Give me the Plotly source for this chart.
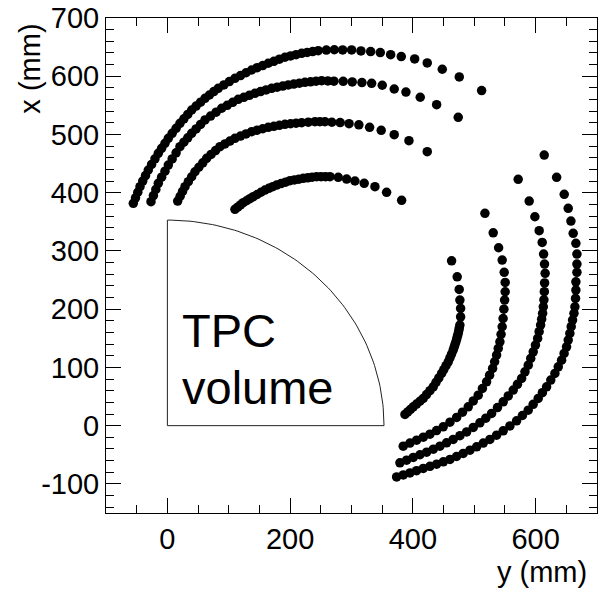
import numpy as np
import plotly.graph_objects as go

# ---- data (horizontal = "y (mm)", vertical = "x (mm)") ----
u1_h = [-55.5, -51.9, -48.2, -44.6, -40.1, -35.6, -31.1, -25.7, -20.2, -14.8,
        -9.4, -3.9, 1.5, 7.8, 14.2, 20.5, 26.9, 33.2, 39.6, 46.8,
        54.1, 61.3, 68.5, 75.7, 82.9, 92.0, 101.0, 110.1, 119.2, 128.2,
        137.3, 146.3, 155.4, 164.4, 173.5, 182.5, 191.6, 200.7, 209.7, 218.8,
        227.8, 236.8, 245.8, 259.0, 272.0, 285.6, 300.2, 315.4, 331.2, 346.9,
        363.8, 381.1, 402.9, 423.4, 447.9, 475.6, 512.0]
u1_v = [381.7, 391.2, 400.8, 410.3, 419.9, 429.4, 439.0, 448.5, 458.1, 467.6,
        476.2, 484.8, 493.4, 502.0, 510.6, 519.2, 526.8, 534.4, 542.0, 548.7,
        555.4, 562.1, 567.8, 573.6, 579.3, 585.0, 590.8, 596.5, 601.2, 606.0,
        610.7, 614.6, 618.4, 622.3, 625.7, 629.2, 632.6, 634.9, 637.1, 639.4,
        640.9, 642.4, 643.9, 645.0, 645.5, 645.2, 645.2, 643.5, 642.3, 640.6,
        637.1, 633.7, 629.7, 622.9, 612.0, 598.8, 575.3]

u2_h = [-26.7, -22.7, -18.8, -14.8, -9.4, -3.9, 1.5, 7.8, 14.2, 20.5,
        26.9, 33.2, 39.6, 46.8, 54.1, 61.3, 70.4, 79.4, 88.5, 97.5,
        106.5, 115.5, 124.6, 133.6, 142.7, 151.8, 160.8, 169.9, 178.9, 188.0,
        197.0, 206.0, 215.1, 224.1, 233.2, 242.2, 251.3, 261.5, 271.4, 286.5,
        301.2, 317.0, 332.8, 350.1, 369.6, 388.7, 412.0, 438.7, 473.9]
u2_v = [384.5, 395.0, 405.6, 416.1, 426.6, 437.0, 447.5, 458.0, 468.5, 479.0,
        486.7, 494.3, 502.0, 509.6, 517.3, 524.9, 531.6, 538.3, 545.0, 550.1,
        555.3, 560.4, 563.8, 567.3, 570.7, 573.6, 576.4, 579.3, 581.2, 583.1,
        585.0, 586.5, 588.1, 589.6, 590.5, 591.5, 592.4, 592.0, 591.5, 591.3,
        590.2, 589.2, 587.9, 584.5, 578.1, 572.9, 563.9, 551.2, 529.5]

u3_h = [16.8, 20.8, 24.7, 28.7, 34.1, 39.6, 45.0, 51.3, 57.7, 64.0,
        71.2, 78.5, 85.7, 93.8, 101.9, 110.1, 119.2, 128.2, 137.3, 146.3,
        155.4, 164.4, 173.5, 182.5, 191.6, 200.7, 209.7, 218.8, 229.6, 240.4,
        248.5, 256.7, 268.0, 281.5, 296.0, 312.0, 329.5, 348.4, 369.6, 393.6,
        423.4]
u3_v = [385.7, 393.9, 402.1, 410.3, 418.9, 427.4, 436.0, 443.7, 451.3, 459.0,
        465.7, 472.3, 479.0, 483.8, 488.6, 493.4, 497.2, 501.0, 504.8, 507.3,
        509.8, 512.3, 514.0, 515.8, 517.5, 518.4, 519.3, 520.2, 521.1, 521.9,
        522.0, 521.9, 521.0, 520.5, 518.5, 516.5, 512.3, 507.2, 499.6, 489.3,
        470.4]

u4_h = [110.1, 114.6, 119.1, 123.6, 129.0, 134.5, 139.9, 146.3, 152.6, 159.0,
        165.3, 171.7, 178.0, 185.2, 192.5, 199.7, 206.9, 214.2, 221.4, 228.7,
        235.9, 243.2, 250.4, 257.7, 264.9, 278.4, 292.1, 305.6, 320.7, 338.2,
        357.2, 381.7]
u4_v = [371.4, 375.2, 379.0, 382.8, 386.2, 389.7, 393.1, 396.9, 400.8, 404.6,
        407.5, 410.3, 413.2, 415.7, 418.1, 420.6, 422.0, 423.3, 424.7, 425.6,
        426.6, 427.5, 427.5, 427.5, 427.5, 426.4, 423.5, 420.1, 416.1, 410.3,
        400.6, 386.9]

r1_h = [387.1, 391.6, 396.1, 400.6, 406.0, 411.5, 416.9, 422.3, 427.8, 433.2,
        437.7, 442.3, 446.8, 450.4, 454.0, 457.6, 460.3, 463.0, 465.7, 467.2,
        468.6, 470.1, 471.4, 472.6, 473.9, 474.8, 475.7, 476.6, 477.8, 477.8,
        476.6, 475.5, 472.2, 463.1]
r1_v = [19.2, 23.6, 27.9, 32.3, 37.1, 41.9, 46.7, 53.4, 60.0, 66.7,
        74.4, 82.0, 89.7, 96.3, 103.0, 109.6, 116.3, 123.0, 129.7, 134.5,
        139.2, 144.0, 148.8, 153.6, 158.4, 163.2, 168.0, 172.7, 186.9, 201.3,
        215.6, 234.0, 255.6, 283.1]

r2_h = [384.3, 395.2, 406.1, 417.0, 427.8, 438.6, 449.4, 460.4, 471.3, 480.8,
        490.2, 498.4, 506.5, 513.3, 520.1, 525.0, 529.9, 533.2, 536.4, 539.1,
        541.8, 543.7, 545.5, 547.0, 548.3, 549.5, 550.4, 550.4, 548.8, 545.5,
        539.7, 530.9, 517.4]
r2_v = [-35.2, -30.0, -24.9, -19.8, -14.6, -8.4, -2.1, 6.0, 14.1, 23.2,
        32.3, 42.4, 52.4, 63.8, 75.2, 86.7, 98.3, 109.7, 121.1, 132.6,
        144.0, 156.9, 169.8, 184.0, 200.0, 215.6, 229.9, 246.0, 263.2, 284.3,
        305.5, 331.2, 364.6]

r3_h = [378.9, 389.8, 400.6, 411.5, 422.4, 433.3, 444.1, 454.9, 465.7, 476.7,
        487.6, 498.4, 509.2, 518.8, 528.3, 537.8, 547.2, 555.4, 563.5, 570.4,
        577.2, 582.6, 588.0, 592.0, 596.1, 599.7, 603.3, 605.7, 608.1, 609.8,
        611.4, 612.5, 613.5, 614.2, 614.6, 615.5, 614.5, 613.0, 610.7, 605.8,
        598.8, 589.5, 571.6]
r3_v = [-63.9, -59.3, -54.6, -50.0, -45.5, -40.4, -35.2, -29.5, -23.7, -17.2,
        -10.7, -3.0, 4.8, 12.9, 21.0, 31.0, 40.9, 51.0, 61.0, 71.0,
        81.1, 92.5, 103.9, 115.4, 126.8, 138.3, 149.8, 161.3, 172.7, 182.8,
        192.8, 204.0, 216.0, 230.0, 245.0, 261.5, 277.5, 294.6, 314.7, 334.7,
        358.7, 385.7, 423.0]

r4_h = [373.5, 384.4, 395.2, 406.0, 416.9, 427.8, 438.7, 449.6, 460.4, 471.2,
        482.0, 493.0, 503.9, 514.7, 525.5, 536.4, 547.2, 558.1, 569.0, 578.5,
        587.9, 596.0, 604.2, 611.0, 617.9, 624.7, 631.4, 636.9, 642.3, 646.4,
        650.4, 653.1, 655.8, 658.0, 660.2, 662.5, 664.0, 665.0, 665.6, 665.6,
        667.3, 667.3, 667.3, 665.6, 661.2, 657.5, 653.1, 646.6, 634.2, 614.0]
r4_v = [-88.0, -84.6, -81.1, -77.3, -73.5, -69.8, -66.1, -62.1, -58.1, -53.0,
        -47.8, -42.1, -36.4, -30.0, -23.7, -16.3, -8.9, -0.4, 8.2, 17.4,
        26.6, 36.7, 46.7, 56.7, 66.7, 78.2, 89.7, 101.1, 112.5, 124.0,
        135.4, 146.9, 158.4, 169.9, 181.3, 192.8, 204.1, 218.5, 232.8, 247.0,
        263.2, 277.5, 294.6, 313.0, 330.2, 351.3, 373.2, 397.2, 426.4, 464.7]

x_tick_vals = [0, 200, 400, 600]
x_tick_text = ["0", "200", "400", "600"]
y_tick_vals = [-100, 0, 100, 200, 300, 400, 500, 600, 700]
y_tick_text = ["-100", "0", "100", "200", "300", "400", "500", "600", "700"]

tpc_radius = 353.0
tpc_label = ["TPC", "volume"]
x_axis_title = "y (mm)"
y_axis_title = "x (mm)"

FONT = "Liberation Sans, Arial, Helvetica, sans-serif"

tracks = [(u1_h, u1_v), (u2_h, u2_v), (u3_h, u3_v), (u4_h, u4_v),
          (r1_h, r1_v), (r2_h, r2_v), (r3_h, r3_v), (r4_h, r4_v)]

fig = go.Figure()

# TPC volume outline (quarter circle)
ang = np.linspace(0, np.pi / 2, 91)
ox = np.concatenate([[0.0, 0.0], tpc_radius * np.sin(ang), [0.0]])
oy = np.concatenate([[0.0, tpc_radius], tpc_radius * np.cos(ang), [0.0]])
fig.add_trace(go.Scatter(x=ox, y=oy, mode="lines",
                         line=dict(color="#222222", width=1),
                         hoverinfo="skip", showlegend=False))

for h, v in tracks:
    fig.add_trace(go.Scatter(x=h, y=v, mode="markers",
                             marker=dict(color="black", size=9.5, line=dict(width=0)),
                             showlegend=False))

fig.add_annotation(x=20, y=163, xref="x", yref="y", text=tpc_label[0],
                   showarrow=False, xanchor="left", yanchor="middle",
                   font=dict(family=FONT, size=47, color="black"))
fig.add_annotation(x=20, y=65, xref="x", yref="y", text=tpc_label[1],
                   showarrow=False, xanchor="left", yanchor="middle",
                   font=dict(family=FONT, size=47, color="black"))

fig.add_annotation(x=-0.155, y=0.8975, xref="paper", yref="paper",
                   text=y_axis_title, textangle=-90, showarrow=False,
                   xanchor="center", yanchor="middle",
                   font=dict(family=FONT, size=29, color="black"))
fig.add_annotation(x=0.889, y=-0.1195, xref="paper", yref="paper",
                   text=x_axis_title, showarrow=False,
                   xanchor="center", yanchor="middle",
                   font=dict(family=FONT, size=29, color="black"))

axis_common = dict(showline=True, linecolor="black", linewidth=1, mirror="ticks",
                   ticks="inside", ticklen=15, tickwidth=1, tickcolor="black",
                   showgrid=False, zeroline=False,
                   tickfont=dict(family=FONT, size=29, color="black"))

fig.update_xaxes(range=[-100, 700], tickmode="array",
                 tickvals=x_tick_vals, ticktext=x_tick_text,
                 minor=dict(ticks="inside", ticklen=8, tickcolor="black",
                            tick0=0, dtick=50, showgrid=False),
                 ticklabelstandoff=0, **axis_common)
fig.update_yaxes(range=[-150, 700], tickmode="array",
                 tickvals=y_tick_vals, ticktext=y_tick_text,
                 minor=dict(ticks="inside", ticklen=8, tickcolor="black",
                            tick0=0, dtick=20, showgrid=False),
                 ticklabelstandoff=0, **axis_common)

fig.update_layout(width=599, height=589,
                  margin=dict(l=106, r=2, t=18, b=76),
                  paper_bgcolor="white", plot_bgcolor="white",
                  font=dict(family=FONT, color="black"),
                  showlegend=False)

fig.write_html("out.html")
